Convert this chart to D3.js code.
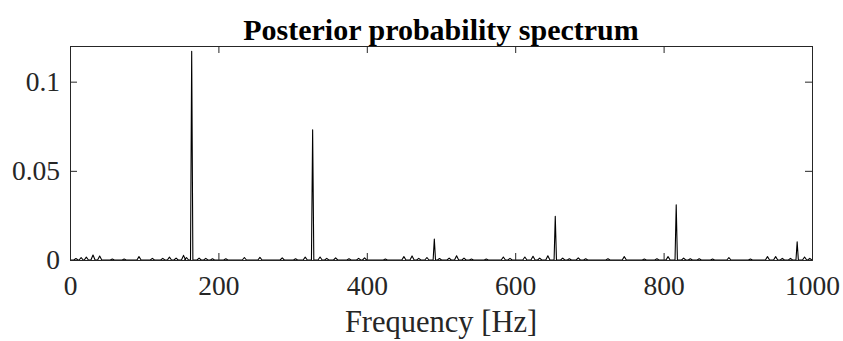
<!DOCTYPE html>
<html>
<head>
<meta charset="utf-8">
<script src="https://cdn.jsdelivr.net/npm/d3@7"></script>
<style>
  html, body { margin: 0; padding: 0; background: #fff; }
  svg { display: block; }
  text { font-family: "Liberation Serif", "Times New Roman", serif; fill: #262626; }
</style>
</head>
<body>
<svg id="chart" width="843" height="341"></svg>
<script>
// ---- data ----
const chartTitle = "Posterior probability spectrum";
const xLabel = "Frequency [Hz]";
const xTicks = [0, 200, 400, 600, 800, 1000];
const yTicks = [0, 0.05, 0.1];
const yTickLabels = ["0", "0.05", "0.1"];

// dominant harmonic peaks (Hz, probability)
const harmonicFreq  = [164, 327, 491, 654, 817, 980];
const harmonicValue = [0.117, 0.073, 0.0118, 0.0245, 0.031, 0.0102];

// small background bumps (Hz, probability)
const bumpFreq = [8, 15, 22, 31, 40, 57, 73, 93, 111, 125, 134, 143, 153, 157, 174, 183, 192, 210, 235,
  256, 286, 304, 317, 337, 346, 358, 376, 389, 397, 425, 450, 461, 470, 481, 498,
  511, 521, 531, 541, 561, 584, 593, 613, 624, 633, 644, 664, 673, 685, 695, 725, 747,
  774, 791, 806, 827, 836, 848, 866, 888, 917, 940, 951, 960, 971, 990, 997];
const bumpValue = [0.0008, 0.0013, 0.0016, 0.0028, 0.0022, 0.0005, 0.0005, 0.0019, 0.0009, 0.0009, 0.0016, 0.0011, 0.0026, 0.0013, 0.0011, 0.0009, 0.0007, 0.0007, 0.0014,
  0.0015, 0.0012, 0.0007, 0.0016, 0.0017, 0.0009, 0.0012, 0.0007, 0.0009, 0.0012, 0.0005, 0.0019, 0.0023, 0.0009, 0.0014, 0.0008,
  0.0011, 0.0024, 0.0011, 0.0005, 0.0005, 0.0017, 0.0009, 0.0017, 0.0021, 0.0011, 0.0024, 0.0011, 0.0007, 0.0012, 0.0007, 0.0007, 0.0019,
  0.0005, 0.0007, 0.0019, 0.0011, 0.0007, 0.0007, 0.0005, 0.0013, 0.0005, 0.0019, 0.0019, 0.0009, 0.0009, 0.0017, 0.0009];

// ---- layout ----
const svg = d3.select("#chart");
const L = 70, R = 812, T = 46, B = 260;
const x = d3.scaleLinear().domain([0, 1000]).range([L, R]);
const y = d3.scaleLinear().domain([0, 0.12]).range([B, T]);
const ink = "#262626";
const tickLen = 7;
const serif = '"Liberation Serif", "Times New Roman", serif';

// build line vertices: baseline with triangular peaks
const peaks = [];
harmonicFreq.forEach((f, i) => peaks.push({f, v: harmonicValue[i], w: 1.6}));
bumpFreq.forEach((f, i) => peaks.push({f, v: bumpValue[i], w: 2.8}));
peaks.sort((a, b) => a.f - b.f);
const pts = [[0, 0]];
peaks.forEach(p => {
  pts.push([Math.max(0, p.f - p.w), 0]);
  pts.push([p.f, p.v]);
  pts.push([Math.min(1000, p.f + p.w), 0]);
});
pts.push([1000, 0]);

const line = d3.line().x(d => x(d[0])).y(d => y(d[1]));
svg.append("path")
  .attr("d", line(pts))
  .attr("fill", "none")
  .attr("stroke", "#000")
  .attr("stroke-width", 1.1)
  .attr("stroke-linejoin", "round");

// axes (MATLAB-style box, inward ticks)
const gx = svg.append("g").attr("transform", `translate(0,${B})`)
  .call(d3.axisBottom(x).tickValues(xTicks).tickSize(-tickLen).tickPadding(15).tickFormat(d3.format("d")));
const gxt = svg.append("g").attr("transform", `translate(0,${T})`)
  .call(d3.axisTop(x).tickValues(xTicks).tickSize(-tickLen).tickFormat(""));
const gy = svg.append("g").attr("transform", `translate(${L},0)`)
  .call(d3.axisLeft(y).tickValues(yTicks).tickSize(-tickLen).tickPadding(10).tickFormat((d, i) => yTickLabels[i]));
const gyr = svg.append("g").attr("transform", `translate(${R},0)`)
  .call(d3.axisRight(y).tickValues(yTicks).tickSize(-tickLen).tickFormat(""));

[gx, gxt, gy, gyr].forEach(g => {
  g.attr("font-family", serif).attr("font-size", 28);
  g.select(".domain").attr("stroke", ink).attr("stroke-width", 1);
  g.selectAll(".tick line").attr("stroke", ink).attr("stroke-width", 1);
  g.selectAll(".tick text")
    .attr("fill", ink)
    .style("font-family", serif)
    .style("font-size", "27.5px");
});

// title
svg.append("text")
  .attr("x", (L + R) / 2).attr("y", 40)
  .attr("text-anchor", "middle")
  .style("font-family", serif)
  .style("font-size", "30px").style("font-weight", "bold")
  .style("fill", "#000")
  .text(chartTitle);

// x label
svg.append("text")
  .attr("x", (L + R) / 2).attr("y", 332)
  .attr("text-anchor", "middle")
  .style("font-family", serif)
  .style("font-size", "30.5px")
  .text(xLabel);
</script>
</body>
</html>
